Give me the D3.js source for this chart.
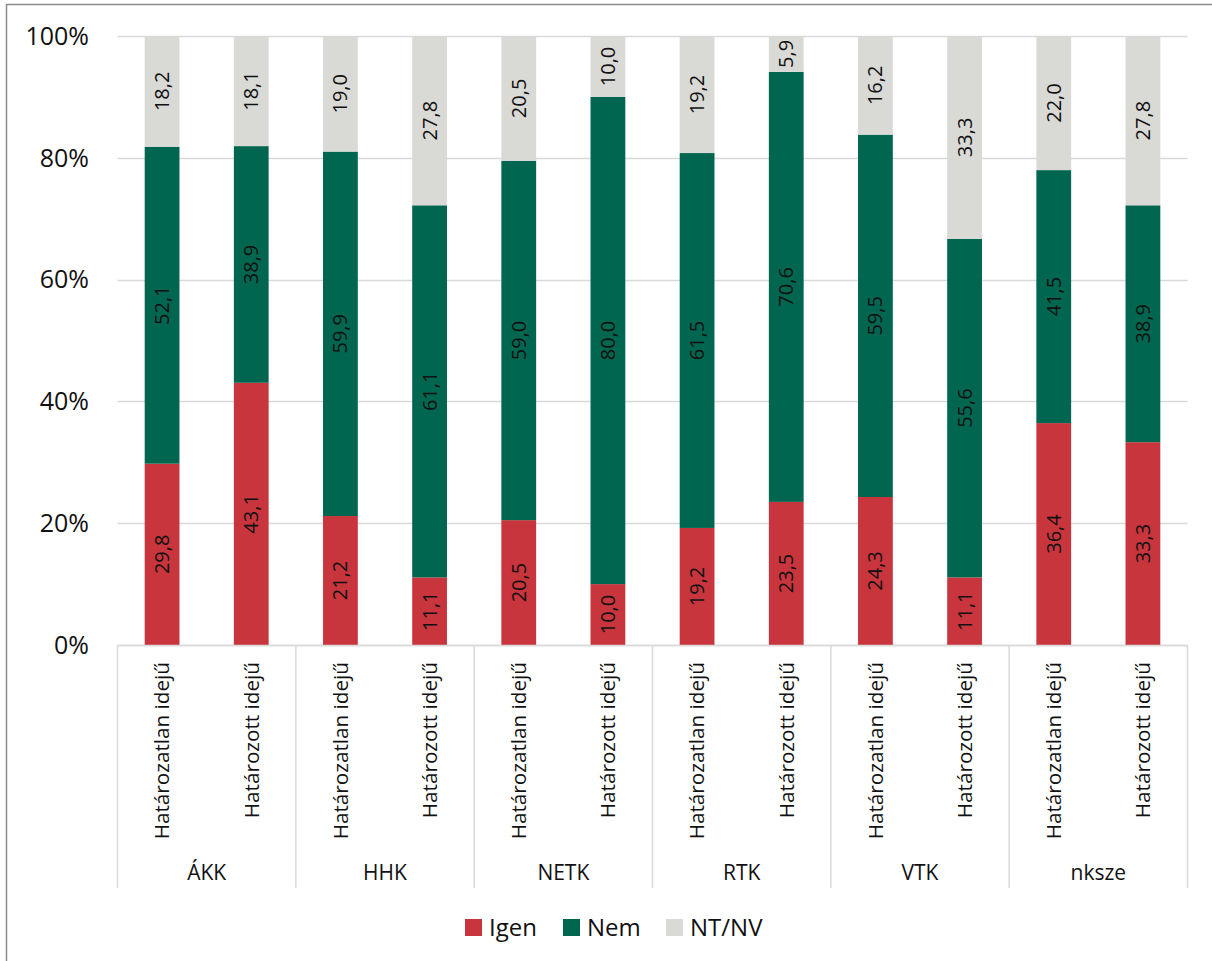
<!DOCTYPE html>
<html>
<head>
<meta charset="utf-8">
<script src="https://cdn.jsdelivr.net/npm/d3@7"></script>
<style>
  html, body { margin: 0; padding: 0; background: #fff; }
  svg { display: block; font-family: "Open Sans", "Noto Sans", sans-serif; }
</style>
</head>
<body>
<svg id="chart" width="1212" height="961"></svg>
<script>
// Units and contract types
const groups = ["ÁKK", "HHK", "NETK", "RTK", "VTK", "nksze"];
const contracts = ["Határozatlan idejű", "Határozott idejű"];

// Answer shares (%) per group, in contract order
const igen = [29.8, 43.1, 21.2, 11.1, 20.5, 10.0, 19.2, 23.5, 24.3, 11.1, 36.4, 33.3];
const nem  = [52.1, 38.9, 59.9, 61.1, 59.0, 80.0, 61.5, 70.6, 59.5, 55.6, 41.5, 38.9];
const ntnv = [18.2, 18.1, 19.0, 27.8, 20.5, 10.0, 19.2,  5.9, 16.2, 33.3, 22.0, 27.8];

const seriesNames = ["Igen", "Nem", "NT/NV"];
const seriesColors = ["#C8353C", "#006650", "#D9D9D6"];
const yTicks = [0, 0.2, 0.4, 0.6, 0.8, 1.0];

// Flat table: one row per bar
const rows = [];
groups.forEach((g, gi) => contracts.forEach((c, ci) => {
  const i = gi * contracts.length + ci;
  rows.push({ group: g, contract: c, "Igen": igen[i], "Nem": nem[i], "NT/NV": ntnv[i] });
}));

const svg = d3.select("#chart");
const plotLeft = 117.5, plotRight = 1187.5, plotTop = 36, plotBottom = 645;

// Outer frame (left and top edges)
svg.append("path")
  .attr("d", "M6.5,961 V4.5 H1212")
  .attr("fill", "none").attr("stroke", "#8c8c8c").attr("stroke-width", 1.5);

const y = d3.scaleLinear().domain([0, 1]).range([plotBottom, plotTop]);
const x0 = d3.scaleBand().domain(groups).range([plotLeft, plotRight]);
const x1 = d3.scaleBand().domain(contracts).range([0, x0.bandwidth()]).paddingInner(0.61).paddingOuter(0.305);

// Gridlines
svg.append("g").selectAll("line").data(yTicks).join("line")
  .attr("x1", plotLeft).attr("x2", plotRight)
  .attr("y1", d => Math.round(y(d)) + 0.5).attr("y2", d => Math.round(y(d)) + 0.5)
  .attr("stroke", "#D9D9D9").attr("stroke-width", 1.5);

// Y tick labels
svg.append("g").selectAll("text").data(yTicks).join("text")
  .attr("x", 89).attr("y", d => y(d))
  .attr("dy", "0.35em").attr("text-anchor", "end")
  .attr("font-size", 25).attr("fill", "#111")
  .text(d => d3.format(".0%")(d));

// 100% stacked series
const stack = d3.stack().keys(seriesNames).offset(d3.stackOffsetExpand);
const stacked = stack(rows);

const layer = svg.append("g").selectAll("g").data(stacked).join("g")
  .attr("fill", (d, i) => seriesColors[i]);

layer.selectAll("rect").data(d => d.map(p => ({ p, key: d.key }))).join("rect")
  .attr("x", d => x0(d.p.data.group) + x1(d.p.data.contract))
  .attr("width", x1.bandwidth())
  .attr("y", d => y(d.p[1]))
  .attr("height", d => y(d.p[0]) - y(d.p[1]));

// Value labels, rotated, centred in each segment
const fmt = v => d3.format(".1f")(v).replace(".", ",");
svg.append("g").selectAll("g").data(stacked).join("g")
  .selectAll("text").data(d => d.map(p => ({ p, key: d.key }))).join("text")
  .attr("transform", d => {
    const cx = x0(d.p.data.group) + x1(d.p.data.contract) + x1.bandwidth() / 2;
    const cy = (y(d.p[0]) + y(d.p[1])) / 2;
    return `translate(${cx},${cy}) rotate(-90)`;
  })
  .attr("text-anchor", "middle").attr("dy", "0.35em")
  .attr("font-size", 20).attr("fill", "#111")
  .text(d => fmt(d.p.data[d.key]));

// Category axis: baseline and group separators
const axisG = svg.append("g");
axisG.append("line")
  .attr("x1", plotLeft).attr("x2", plotRight).attr("y1", plotBottom + 0.5).attr("y2", plotBottom + 0.5)
  .attr("stroke", "#D9D9D9").attr("stroke-width", 1.5);
const sepX = groups.map(g => x0(g)).concat([plotRight]);
axisG.selectAll("line.sep").data(sepX).join("line").attr("class", "sep")
  .attr("x1", d => d).attr("x2", d => d).attr("y1", plotBottom).attr("y2", 888)
  .attr("stroke", "#D9D9D9").attr("stroke-width", 1.5);

// Contract labels (rotated)
axisG.selectAll("text.contract").data(rows).join("text").attr("class", "contract")
  .attr("transform", d => `translate(${x0(d.group) + x1(d.contract) + x1.bandwidth() / 2},662) rotate(-90)`)
  .attr("text-anchor", "end").attr("dy", "0.35em")
  .attr("font-size", 20.7).attr("fill", "#111")
  .text(d => d.contract);

// Group labels
axisG.selectAll("text.group").data(groups).join("text").attr("class", "group")
  .attr("x", d => x0(d) + x0.bandwidth() / 2).attr("y", 873)
  .attr("dy", "0.35em").attr("text-anchor", "middle")
  .attr("font-size", 21).attr("fill", "#111")
  .text(d => d);

// Legend
const legendX = [465, 563, 666];
const leg = svg.append("g").selectAll("g").data(seriesNames).join("g")
  .attr("transform", (d, i) => `translate(${legendX[i]},919)`);
leg.append("rect").attr("width", 17).attr("height", 17).attr("fill", (d, i) => seriesColors[i]);
leg.append("text").attr("x", 24).attr("y", 8.5).attr("dy", "0.36em")
  .attr("font-size", 24).attr("fill", "#111").text(d => d);
</script>
</body>
</html>
